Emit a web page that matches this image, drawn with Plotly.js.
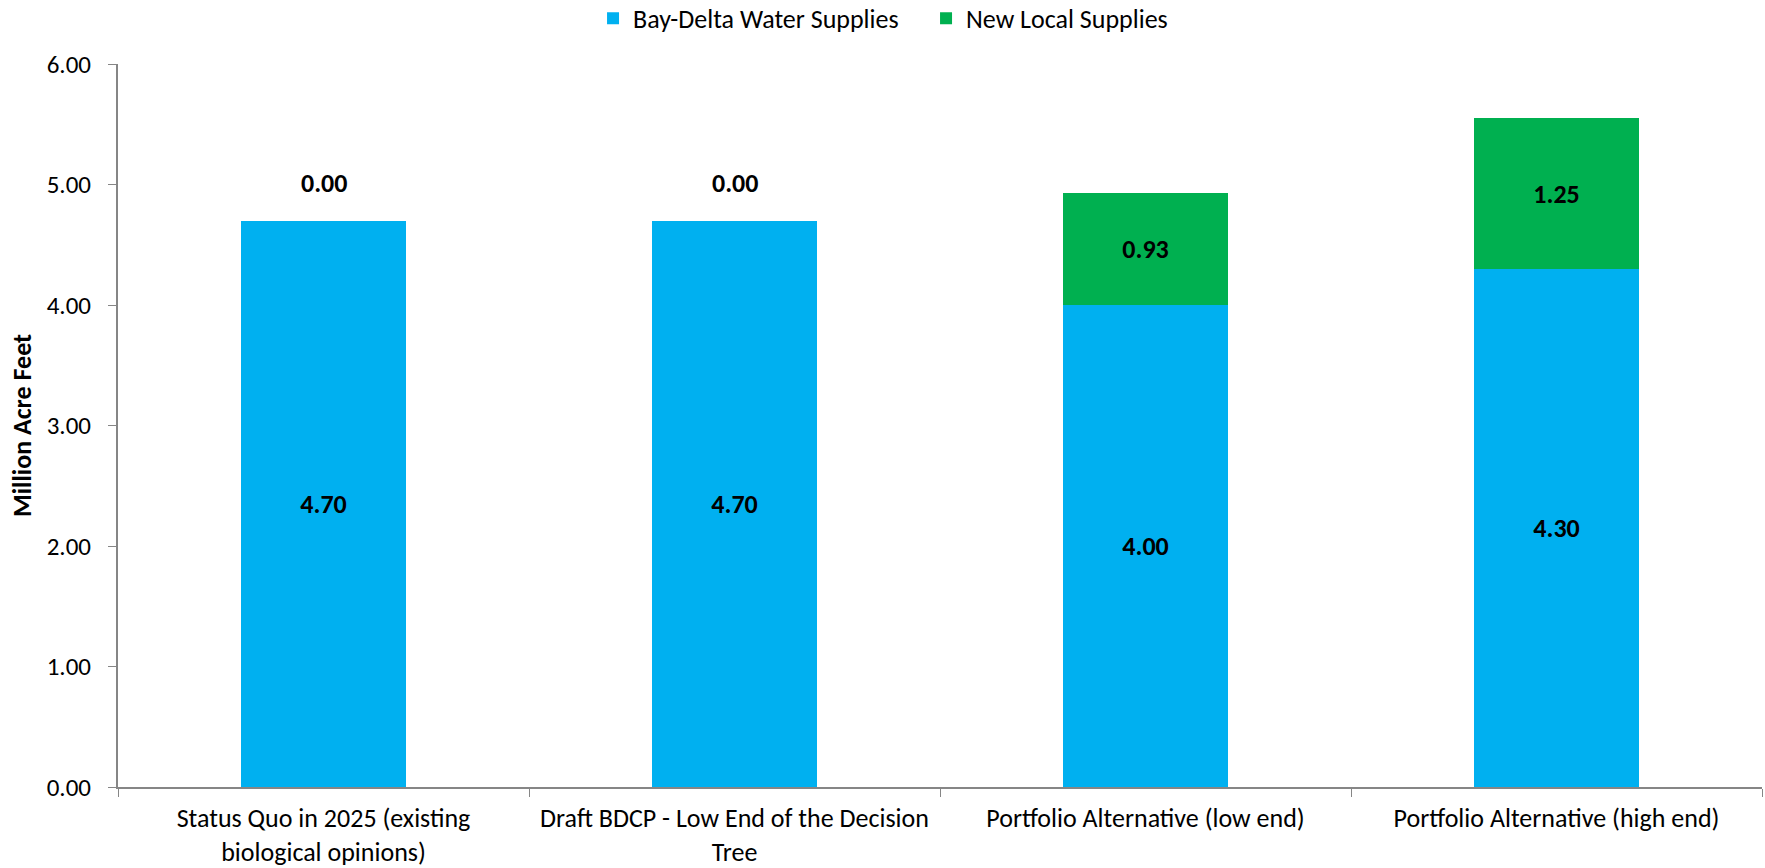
<!DOCTYPE html>
<html>
<head>
<meta charset="utf-8">
<script src="https://cdn.plot.ly/plotly-3.0.1.min.js"></script>
<style>
html,body{margin:0;padding:0;background:#fff;}
#chart{width:1765px;height:868px;}
</style>
</head>
<body>
<div id="chart"></div>
<script>
// Data
const categories = [
  "Status Quo in 2025 (existing<br>biological opinions)",
  "Draft BDCP - Low End of the Decision<br>Tree",
  "Portfolio Alternative (low end)",
  "Portfolio Alternative (high end)"
];
const bayDelta = [4.70, 4.70, 4.00, 4.30];
const newLocal = [0.00, 0.00, 0.93, 1.25];
const seriesNames = ["Bay-Delta Water Supplies", "New Local Supplies"];
const yTickVals = [0, 1, 2, 3, 4, 5, 6];

const FONT = "Carlito, Calibri, Lato, sans-serif";

const fmt = v => v.toFixed(2);

const labelFont = {family: FONT, size: 26, color: "#000000", weight: "bold"};

const traceBay = {
  type: "bar",
  name: seriesNames[0],
  x: categories,
  y: bayDelta,
  marker: {color: "#00B0F0"},
  text: bayDelta.map(fmt),
  textposition: "inside",
  insidetextanchor: "middle",
  textangle: 0,
  constraintext: "none",
  textfont: labelFont,
  hoverinfo: "skip"
};
const traceLocal = {
  type: "bar",
  name: seriesNames[1],
  x: categories,
  y: newLocal,
  marker: {color: "#00B050"},
  text: newLocal.map(v => v > 0 ? fmt(v) : ""),
  textposition: "inside",
  insidetextanchor: "middle",
  textangle: 0,
  constraintext: "none",
  textfont: labelFont,
  hoverinfo: "skip"
};

// Labels for zero-height segments sit above the stack
const annotations = [];
newLocal.forEach((v, i) => {
  if (v === 0) {
    annotations.push({
      x: categories[i], y: bayDelta[i] + v, xref: "x", yref: "y",
      text: "<b>" + fmt(v) + "</b>", showarrow: false, yshift: 38,
      font: {family: FONT, size: 26, color: "#000000"}
    });
  }
});

const layout = {
  width: 1765, height: 868,
  paper_bgcolor: "#ffffff", plot_bgcolor: "#ffffff",
  barmode: "stack",
  bargap: 0.6,
  margin: {l: 118, r: 3, t: 64, b: 81},
  font: {family: FONT, size: 25, color: "#000000"},
  showlegend: true,
  legend: {
    orientation: "h",
    xref: "container", x: 0.336, xanchor: "left",
    yref: "container", y: 0.979, yanchor: "middle",
    entrywidth: 288, entrywidthmode: "pixels",
    font: {family: FONT, size: 26, color: "#000000"},
    traceorder: "normal", itemclick: false, itemdoubleclick: false
  },
  xaxis: {
    type: "category",
    showline: true, linecolor: "#868686", linewidth: 2,
    ticks: "outside", tickson: "boundaries", ticklen: 8, tickcolor: "#868686", tickwidth: 1,
    showgrid: false, zeroline: false,
    ticklabelstandoff: 7,
    tickfont: {family: FONT, size: 26, color: "#000000"}
  },
  yaxis: {
    range: [0, 6], tickvals: yTickVals, tickformat: ".2f",
    showline: true, linecolor: "#868686", linewidth: 2,
    ticks: "outside", ticklen: 8, tickcolor: "#868686", tickwidth: 1,
    showgrid: false, zeroline: false,
    ticklabelstandoff: 12,
    tickfont: {family: FONT, size: 25, color: "#000000"},
    title: {text: "<b>Million Acre Feet</b>", font: {family: FONT, size: 26, color: "#000000"}, standoff: 8}
  },
  annotations: annotations
};

Plotly.newPlot("chart", [traceBay, traceLocal], layout, {displayModeBar: false, staticPlot: true});
</script>
</body>
</html>
